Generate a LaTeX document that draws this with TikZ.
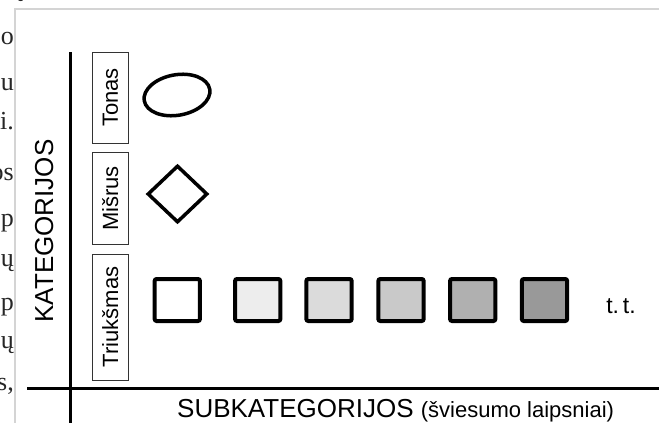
\documentclass[tikz,border=0pt]{standalone}
\usepackage{fontspec}
\setmainfont{Liberation Serif}
\newfontfamily\arialf{Liberation Sans}
\usetikzlibrary{shapes.geometric}
\begin{document}
\begin{tikzpicture}[x=1pt,y=-1pt,
  sq/.style={draw=black, line width=4pt, rounded corners=2pt, minimum width=45.3pt, minimum height=42pt, inner sep=0pt},
  lbl/.style={draw=black!80, line width=0.8pt, rotate=90, minimum height=35.5pt, inner sep=0pt, font=\arialf\fontsize{22}{26}\selectfont},
  frag/.style={anchor=base east, inner sep=0pt, font=\fontsize{26}{30}\selectfont, text=black!85},
  axisline/.style={line width=3pt, black},
  framel/.style={line width=1.6pt, black!17}]
\useasboundingbox (0,0) rectangle (659,423);
% page frame
\coordinate (f1) at (15,430);
\coordinate (f2) at (15,9);
\coordinate (f3) at (670,9);
\draw[framel] (f1) -- (f2) -- (f3);
% cropped page text
\node[frag] (t0) at (23,-4) {ų};
\node[frag] (t1) at (14,45) {o};
\node[frag] (t2) at (14,90) {u};
\node[frag] (t3) at (14,129) {i.};
\node[frag] (t4) at (14,180) {os};
\node[frag] (t5) at (14,226) {p};
\node[frag] (t6) at (14,266) {ų};
\node[frag] (t7) at (14,310) {p};
\node[frag] (t8) at (14,348) {ų};
\node[frag] (t9) at (14,390) {s,};
% axes
\coordinate (vtop) at (70,52);
\coordinate (vbot) at (70,430);
\coordinate (hl) at (27,388);
\coordinate (hr) at (670,388);
\draw[axisline] (vtop) -- (vbot);
\draw[axisline] (hl) -- (hr);
% axis titles
\node[anchor=base, rotate=90, inner sep=0pt, font=\arialf\fontsize{26}{30}\selectfont] (kat) at (53,231) {KATEGORIJOS};
\node[anchor=base west, inner sep=0pt, font=\arialf] (sub) at (177,417) {\fontsize{26}{30}\selectfont SUBKATEGORIJOS {\fontsize{22}{26}\selectfont (šviesumo laipsniai)}};
% category labels
\node[lbl, minimum width=91pt] (tonas) at (110.3,97.5) {Tonas};
\node[lbl, minimum width=92pt] (misrus) at (110.3,198.5) {Mišrus};
\node[lbl, minimum width=126pt] (triuk) at (110.3,317) {Triukšmas};
% shapes
\node[draw, ellipse, line width=3.5pt, minimum width=66.5pt, minimum height=40.5pt, inner sep=0pt, rotate=10] (ell) at (177,95) {};
\node[draw, diamond, line width=3.5pt, minimum width=60pt, minimum height=57pt, inner sep=0pt] (dia) at (177.5,194) {};
\node[sq, fill=white] (s1) at (177.3,300) {};
\node[sq, fill=black!7] (s2) at (257.7,300) {};
\node[sq, fill=black!14] (s3) at (329,300) {};
\node[sq, fill=black!21] (s4) at (401,300) {};
\node[sq, fill=black!31] (s5) at (472.7,300) {};
\node[sq, fill=black!40] (s6) at (544.5,300) {};
\node[anchor=base, inner sep=0pt, font=\arialf\fontsize{23}{27}\selectfont] (tt) at (621,313) {t.\,t.};
\end{tikzpicture}
\end{document}
